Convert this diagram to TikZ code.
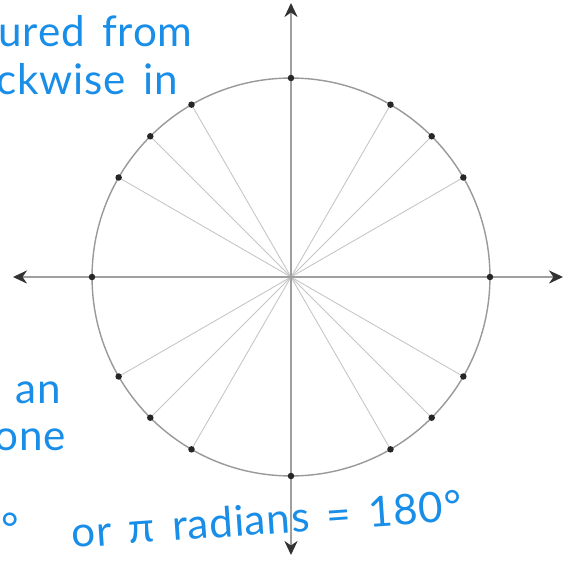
\documentclass[tikz,border=0pt]{standalone}
\usepackage{fontspec}
\newfontfamily\handfont[LetterSpace=2, WordSpace=1.5]{Lato}
\usetikzlibrary{arrows.meta}
\definecolor{inkblue}{RGB}{24,142,232}
\tikzset{
    note/.style={font=\handfont\fontsize{24}{28}\selectfont, text=inkblue, inner sep=0pt},
    axis/.style={gray!75, line width=0.8pt, {Stealth[length=8pt,width=7.5pt,color=black!80]}-{Stealth[length=8pt,width=7.5pt,color=black!80]}},
    spoke/.style={gray!45, line width=0.5pt}
}

\begin{document}
\begin{tikzpicture}[x=0.02cm,y=0.02cm]
    \useasboundingbox (-291,-284) rectangle (274,277);
    \fill[white] (-291,-284) rectangle (274,277);
    \clip (-291,-284) rectangle (274,277);
    \coordinate (O) at (0,0);
    \coordinate (xl) at (-278,0);
    \coordinate (xr) at (272,0);
    \coordinate (yt) at (0,274);
    \coordinate (yb) at (0,-278);
    % spokes
    \foreach \a in {0,30,45,60,90,120,135,150,180,210,225,240,270,300,315,330}{
        \coordinate (p\a) at (\a:199);
        \draw[spoke] (O) -- (p\a);
    }
    % axes
    \draw[axis] (xl) -- (xr);
    \draw[axis] (yb) -- (yt);
    \draw[gray!80, line width=0.8pt] (O) circle[radius=3.98cm];
    \foreach \a in {0,30,45,60,90,120,135,150,180,210,225,240,270,300,315,330}
        \fill[black!85] (p\a) circle[radius=0.065cm];
    % handwritten notes
    \node[note, anchor=base west] (measured) at (-293,230) {ured from};
    \node[note, anchor=base west] (clockwise) at (-295,182) {ckwise in};
    \node[note, anchor=base west] (an) at (-276,-126) {an};
    \node[note, anchor=base west] (one) at (-297,-173) {one};
    \node[note, anchor=base east] (deg) at (-272,-266) {8°};
    \node[note, anchor=base west, rotate=4] (radians) at (-219,-271) {or π radians = 180°};
\end{tikzpicture}
\end{document}
